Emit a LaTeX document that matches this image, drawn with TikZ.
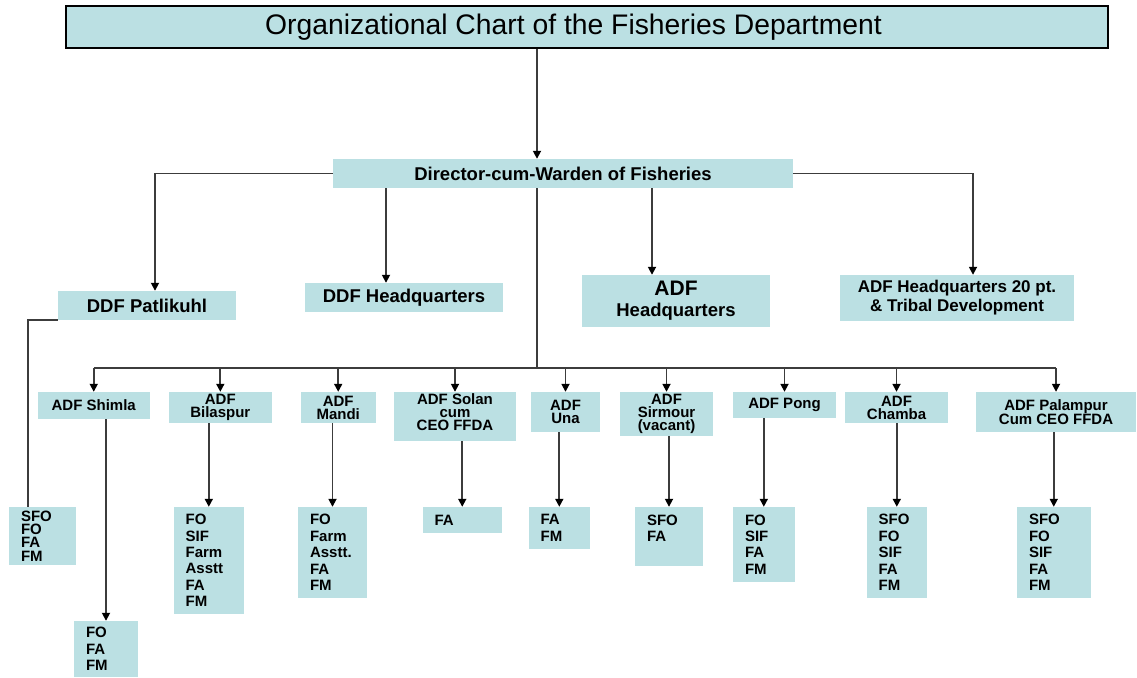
\documentclass[tikz,border=0pt]{standalone}
\usepackage{fontspec}
\setmainfont{Liberation Sans}
\usetikzlibrary{arrows.meta}

\definecolor{boxblue}{RGB}{187,224,227}
\definecolor{linegray}{RGB}{60,60,60}

\begin{document}
\begin{tikzpicture}[x=1pt,y=-1pt,
  head/.style={draw=black, line width=1.2pt, fill=boxblue, inner sep=0pt, font=\fontsize{28.3}{30}\selectfont},
  box/.style={fill=boxblue, inner sep=0pt, align=center, font=\bfseries\fontsize{18.5}{21}\selectfont},
  office/.style={fill=boxblue, inner sep=0pt, align=center, font=\bfseries\fontsize{15}{13}\selectfont},
  staff/.style={fill=boxblue, inner xsep=12pt, inner ysep=0pt, align=left, font=\bfseries\fontsize{15}{16.4}\selectfont},
  link/.style={draw=linegray, line width=1.7pt},
  arr/.style={link, -{Triangle[width=8pt,length=8pt,color=black]}}]

\path[fill=white] (0,0) rectangle (1137,677);

% title and director
\node[head, minimum width=1042pt, minimum height=42pt] (title) at (587,27) {Organizational Chart of the Fisheries Department\kern27pt};
\node[box, minimum width=460pt, minimum height=29pt] (dir) at (563,173.5) {Director-cum-Warden of Fisheries};

% deputy directors
\node[box, minimum width=178pt, minimum height=29pt] (patl) at (147,305.5) {DDF Patlikuhl};
\node[box, minimum width=198pt, minimum height=29pt] (ddfhq) at (404,297.5) {DDF Headquarters};
\node[box, minimum width=188pt, minimum height=52pt] (adfhq) at (676,301) {{\fontsize{21}{21}\selectfont ADF}\\Headquarters};
\node[box, font=\bfseries\fontsize{17}{19}\selectfont, minimum width=234pt, minimum height=46pt] (hq20) at (957,298) {ADF Headquarters 20 pt.\\\& Tribal Development};

% district ADFs
\node[office, minimum width=112.5pt, minimum height=27pt] (shimla) at (93.75,405.5) {ADF Shimla};
\node[office, minimum width=103.4pt, minimum height=31pt] (bilaspur) at (220.3,407.5) {ADF\\Bilaspur};
\node[office, minimum width=75pt, minimum height=31pt] (mandi) at (338.2,407.5) {ADF\\Mandi};
\node[office, minimum width=122pt, minimum height=49pt] (solan) at (455,416.5) {ADF Solan\\cum\\CEO FFDA\\[-5pt]\mbox{}};
\node[office, minimum width=69pt, minimum height=40pt] (una) at (565.5,412) {ADF\\Una};
\node[office, minimum width=93pt, minimum height=44pt] (sirmour) at (666.5,414) {ADF\\Sirmour\\(vacant)};
\node[office, minimum width=103pt, minimum height=26pt] (pong) at (784.5,405) {ADF Pong};
\node[office, minimum width=103pt, minimum height=31pt] (chamba) at (896.5,407.5) {ADF\\Chamba};
\node[office, minimum width=159.5pt, minimum height=40pt] (palampur) at (1056,412) {ADF Palampur\\Cum CEO FFDA};

% staff
\node[staff, font=\bfseries\fontsize{15}{13.3}\selectfont, text width=43pt, minimum height=58pt] (patlstaff) at (42.5,536) {SFO\\FO\\FA\\FM};
\node[staff, text width=40pt, minimum height=56pt] (shimlastaff) at (106,649) {FO\\FA\\FM};
\node[staff, text width=46.4pt, minimum height=107pt] (bilaspurstaff) at (208.8,560.5) {FO\\SIF\\Farm\\Asstt\\FA\\FM};
\node[staff, text width=45pt, minimum height=91pt] (mandistaff) at (332.5,552.5) {FO\\Farm\\Asstt.\\FA\\FM};
\node[staff, text width=55.5pt, minimum height=26pt] (solanstaff) at (462.25,520) {FA};
\node[staff, text width=37.4pt, minimum height=42pt] (unastaff) at (559.3,528) {FA\\FM};
\node[staff, text width=44pt, minimum height=59pt] (sirmourstaff) at (669,536.5) {SFO\\FA\\\mbox{}};
\node[staff, text width=37.6pt, minimum height=75pt] (pongstaff) at (763.8,544.5) {FO\\SIF\\FA\\FM};
\node[staff, text width=36.4pt, minimum height=91pt] (chambastaff) at (896.8,552.5) {SFO\\FO\\SIF\\FA\\FM};
\node[staff, text width=49.5pt, minimum height=91pt] (palampurstaff) at (1053.75,552.5) {SFO\\FO\\SIF\\FA\\FM};

% columns of the upper arrows
\coordinate (trunk) at (537,368);
\coordinate (colP) at (155,174);
\coordinate (colH) at (386,0);
\coordinate (colA) at (652,0);
\coordinate (colT) at (973,174);

% upper connectors
\draw[arr] (trunk |- title.south) -- (trunk |- dir.north);
\draw[arr] (dir.west) -| (colP |- patl.north);
\draw[arr] (colH |- dir.south) -- (colH |- ddfhq.north);
\draw[arr] (colA |- dir.south) -- (colA |- adfhq.north);
\draw[arr] (dir.east) -| (colT |- hq20.north);
\draw[link] (patl.south west) -| ([xshift=19.5pt]patlstaff.north west);

% bus to the districts
\draw[link] (trunk |- dir.south) -- (trunk);
\draw[link] (trunk -| shimla.north) -- (trunk -| palampur.north);
\draw[arr] (trunk -| shimla.north) -- (shimla.north);
\draw[arr] (trunk -| bilaspur.north) -- (bilaspur.north);
\draw[arr] (trunk -| mandi.north) -- (mandi.north);
\draw[arr] (trunk -| solan.north) -- (solan.north);
\draw[arr] (trunk -| una.north) -- (una.north);
\draw[arr] (trunk -| sirmour.north) -- (sirmour.north);
\draw[arr] (trunk -| pong.north) -- (pong.north);
\draw[arr] (trunk -| chamba.north) -- (chamba.north);
\draw[arr] (trunk -| palampur.north) -- (palampur.north);

% districts to staff
\draw[arr] (shimla.south -| shimlastaff.north) -- (shimlastaff.north);
\draw[arr] (bilaspur.south -| bilaspurstaff.north) -- (bilaspurstaff.north);
\draw[arr] (mandi.south -| mandistaff.north) -- (mandistaff.north);
\draw[arr] (solan.south -| solanstaff.north) -- (solanstaff.north);
\draw[arr] (una.south -| unastaff.north) -- (unastaff.north);
\draw[arr] (sirmour.south -| sirmourstaff.north) -- (sirmourstaff.north);
\draw[arr] (pong.south -| pongstaff.north) -- (pongstaff.north);
\draw[arr] (chamba.south -| chambastaff.north) -- (chambastaff.north);
\draw[arr] (palampur.south -| palampurstaff.north) -- (palampurstaff.north);
\end{tikzpicture}
\end{document}
